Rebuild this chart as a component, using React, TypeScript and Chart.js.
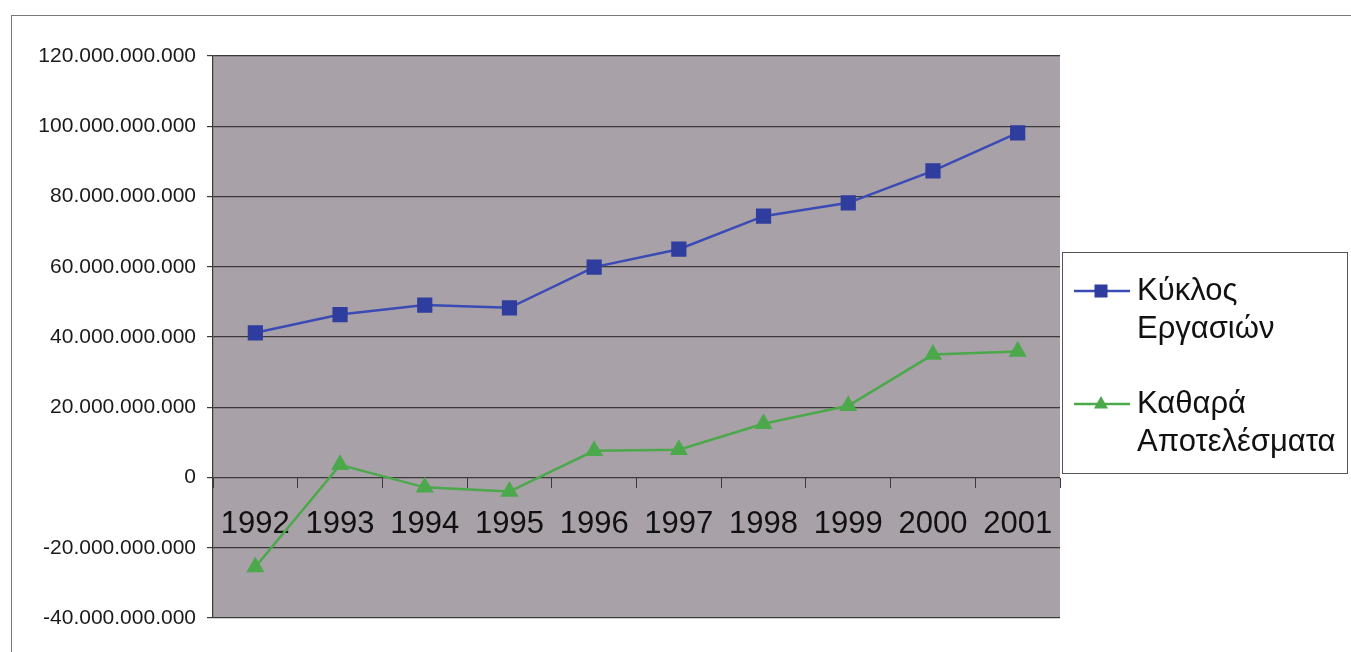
import React, { useEffect, useRef } from "react";
import { Chart, registerables } from "chart.js";

Chart.register(...registerables);

const years = ["1992", "1993", "1994", "1995", "1996", "1997", "1998", "1999", "2000", "2001"];
const turnover = [41.2e9, 46.4e9, 49.1e9, 48.3e9, 59.9e9, 65.0e9, 74.4e9, 78.2e9, 87.3e9, 98.1e9];
const netResults = [-25.5e9, 3.6e9, -2.8e9, -4.0e9, 7.6e9, 7.9e9, 15.3e9, 20.4e9, 35.0e9, 35.9e9];
const seriesLabels = [
  ["Κύκλος", "Εργασιών"],
  ["Καθαρά", "Αποτελέσματα"],
];
const yMin = -40e9;
const yMax = 120e9;
const yStep = 20e9;

const FONT = "'Liberation Sans', Arial, 'DejaVu Sans', sans-serif";
const PLOT_BG = "#a8a1a7";
const GRID = "#3a3a3a";
const BLUE_LINE = "#3b4bb5";
const BLUE_PT = "#2f3d9e";
const GREEN = "#4ba84b";

function fmt(v: number): string {
  const neg = v < 0;
  const s = Math.round(Math.abs(v)).toString().replace(/\B(?=(\d{3})+(?!\d))/g, ".");
  return (neg ? "-" : "") + s;
}

const bgPlugin = {
  id: "plotBg",
  beforeDraw(chart: any) {
    const { ctx, chartArea } = chart;
    ctx.save();
    ctx.fillStyle = "#ffffff";
    ctx.fillRect(0, 0, chart.width, chart.height);
    ctx.fillStyle = PLOT_BG;
    ctx.fillRect(chartArea.left, chartArea.top, chartArea.right - chartArea.left, chartArea.bottom - chartArea.top);
    ctx.restore();
  },
};

const legendPlugin = {
  id: "customLegend",
  afterDraw(chart: any) {
    const { ctx, chartArea } = chart;
    const left = chartArea.right + 2;
    const top = 252;
    const w = 285;
    const h = 221;
    ctx.save();
    ctx.fillStyle = "#ffffff";
    ctx.fillRect(left, top, w, h);
    ctx.strokeStyle = "#555555";
    ctx.lineWidth = 1;
    ctx.strokeRect(left + 0.5, top + 0.5, w, h);
    const rows = [291, 404];
    chart.data.datasets.forEach((ds: any, i: number) => {
      const y = rows[i];
      ctx.strokeStyle = ds.borderColor;
      ctx.lineWidth = 2.5;
      ctx.beginPath();
      ctx.moveTo(left + 12, y);
      ctx.lineTo(left + 68, y);
      ctx.stroke();
      const cx = left + 39;
      ctx.fillStyle = ds.pointBackgroundColor;
      if (ds.pointStyle === "rect") {
        ctx.fillRect(cx - 6.5, y - 6.5, 13, 13);
      } else {
        ctx.beginPath();
        ctx.moveTo(cx, y - 8);
        ctx.lineTo(cx + 7, y + 4.5);
        ctx.lineTo(cx - 7, y + 4.5);
        ctx.closePath();
        ctx.fill();
      }
      ctx.fillStyle = "#111111";
      ctx.font = `31px ${FONT}`;
      ctx.textBaseline = "middle";
      ctx.textAlign = "left";
      seriesLabels[i].forEach((line, j) => {
        ctx.fillText(line, left + 75, y + j * 38);
      });
    });
    ctx.restore();
  },
};

export default function App() {
  const canvasRef = useRef<HTMLCanvasElement | null>(null);

  useEffect(() => {
    if (!canvasRef.current) return;
    const chart = new Chart(canvasRef.current, {
      type: "line",
      data: {
        labels: years,
        datasets: [
          {
            label: seriesLabels[0].join(" "),
            data: turnover,
            borderColor: BLUE_LINE,
            backgroundColor: BLUE_PT,
            pointBackgroundColor: BLUE_PT,
            pointBorderColor: BLUE_PT,
            pointStyle: "rect",
            pointRadius: 9,
            borderWidth: 2.5,
            tension: 0,
          },
          {
            label: seriesLabels[1].join(" "),
            data: netResults,
            borderColor: GREEN,
            backgroundColor: GREEN,
            pointBackgroundColor: GREEN,
            pointBorderColor: GREEN,
            pointStyle: "triangle",
            pointRadius: 8,
            borderWidth: 2.5,
            tension: 0,
          },
        ],
      },
      options: {
        animation: false,
        responsive: false,
        maintainAspectRatio: false,
        layout: { padding: { left: 0, top: 56, right: 291, bottom: 34 } },
        plugins: {
          legend: { display: false },
          tooltip: { enabled: false },
        },
        scales: {
          x: {
            type: "category",
            position: { y: 0 } as any,
            offset: true,
            grid: {
              display: true,
              drawOnChartArea: false,
              drawTicks: true,
              tickLength: 10,
              color: GRID,
              offset: true,
            },
            border: { display: false },
            ticks: {
              color: "#111111",
              font: { family: FONT, size: 31 },
              padding: 18,
              maxRotation: 0,
              autoSkip: false,
            },
          },
          y: {
            min: yMin,
            max: yMax,
            afterFit(scale: any) {
              scale.width = 213;
            },
            grid: {
              color: GRID,
              lineWidth: 1.2,
              drawTicks: true,
              tickLength: 6,
            },
            border: { display: true, color: GRID, width: 1.2 },
            ticks: {
              stepSize: yStep,
              color: "#1a1a1a",
              font: { family: FONT, size: 21 },
              padding: 11,
              callback: (v: any) => fmt(Number(v)),
            },
          },
        },
      },
      plugins: [bgPlugin, legendPlugin],
    });
    return () => chart.destroy();
  }, []);

  return (
    <div style={{ position: "fixed", left: 0, top: 0, width: 1351, height: 652, background: "#fff" }}>
      <canvas ref={canvasRef} width={1351} height={652} style={{ position: "absolute", left: 0, top: 0 }} />
      <div
        style={{
          position: "absolute",
          left: 11,
          top: 15,
          width: 1351,
          height: 652,
          borderLeft: "1px solid #777",
          borderTop: "1px solid #777",
          pointerEvents: "none",
        }}
      />
    </div>
  );
}
